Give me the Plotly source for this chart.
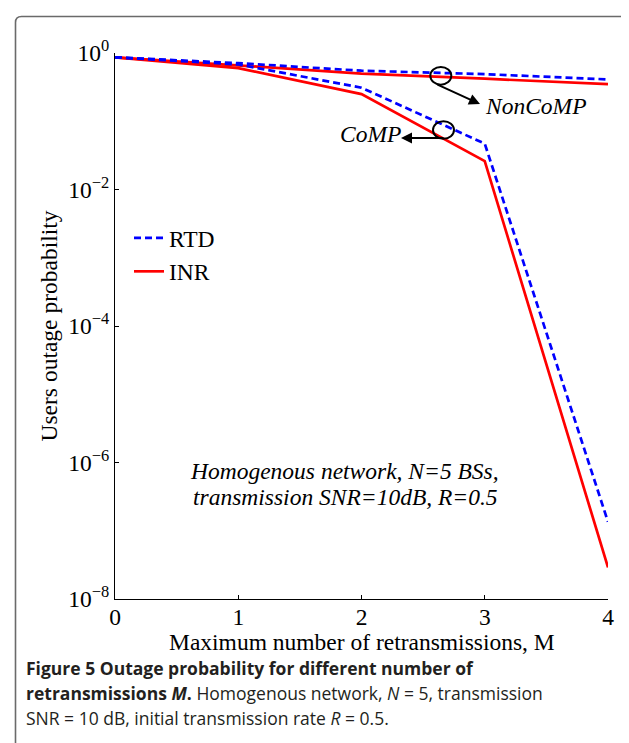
import plotly.graph_objects as go

# ---- data ----
M = [0, 1, 2, 3, 4]
noncomp_rtd = [0.865, 0.71, 0.55, 0.49, 0.41]
noncomp_inr = [0.865, 0.66, 0.50, 0.42, 0.35]
comp_rtd = [0.865, 0.68, 0.31, 0.047, 1.35e-7]
comp_inr = [0.865, 0.60, 0.25, 0.026, 2.9e-8]
ytick_vals = [1e0, 1e-2, 1e-4, 1e-6, 1e-8]
ytick_text = ["10<sup>0</sup>", "10<sup>\u22122</sup>", "10<sup>\u22124</sup>",
              "10<sup>\u22126</sup>", "10<sup>\u22128</sup>"]
xtick_vals = [0, 1, 2, 3, 4]

W, H = 629, 743
L, R, T, B = 107, 600, 45, 591
def fx(px):
    return (px - L) / (R - L)
def fy(py):
    return (B - py) / (B - T)

SERIF = "Liberation Serif"
FS = 23.5
RED = "#ff0000"
BLUE = "#0000ff"

fig = go.Figure()
fig.add_trace(go.Scatter(x=M, y=noncomp_inr, mode="lines", name="INR",
                         legendgroup="INR", showlegend=True, legendrank=2,
                         line=dict(color=RED, width=2.7)))
fig.add_trace(go.Scatter(x=M, y=comp_inr, mode="lines", name="INR",
                         legendgroup="INR", showlegend=False,
                         line=dict(color=RED, width=2.7)))
fig.add_trace(go.Scatter(x=M, y=noncomp_rtd, mode="lines", name="RTD",
                         legendgroup="RTD", showlegend=True, legendrank=1,
                         line=dict(color=BLUE, width=2.7, dash="7px,4px")))
fig.add_trace(go.Scatter(x=M, y=comp_rtd, mode="lines", name="RTD",
                         legendgroup="RTD", showlegend=False,
                         line=dict(color=BLUE, width=2.7, dash="7px,4px")))

def label(px, py, text, size=FS, family=SERIF, xanchor="center", color="black"):
    return dict(x=fx(px), y=fy(py), xref="paper", yref="paper", text=text,
                xanchor=xanchor, yanchor="middle", showarrow=False,
                font=dict(family=family, size=size, color=color))

ann = []
ann.append(label(527.5, 98, "<i>NonCoMP</i>"))
ann.append(label(362.5, 126, "<i>CoMP</i>"))
ann.append(dict(x=fx(472), y=fy(96), xref="paper", yref="paper", text="", showarrow=True,
                ax=-44, ay=-20, arrowhead=2, arrowsize=1.1, arrowwidth=2, arrowcolor="black"))
ann.append(dict(x=fx(393), y=fy(130), xref="paper", yref="paper", text="", showarrow=True,
                ax=44, ay=0, arrowhead=2, arrowsize=1.1, arrowwidth=2, arrowcolor="black"))
ann.append(label(336, 463, "<i>Homogenous network, N=5 BSs,</i>"))
ann.append(label(337, 489, "<i>transmission SNR=10dB, R=0.5</i>"))
# x-axis title
ann.append(label((L + R) / 2, 634, "Maximum number of retransmissions, M"))
CAP = "Open Sans"
CFS = 17.5
cap_lines = [
    "<b>Figure 5 Outage probability for different number of</b>",
    "<b>retransmissions <i>M</i>.</b> Homogenous network, <i>N</i> = 5, transmission",
    "SNR = 10 dB, initial transmission rate <i>R</i> = 0.5.",
]
cap_y = [660, 685, 710]
for t, yy in zip(cap_lines, cap_y):
    ann.append(label(16, yy, t, size=CFS, family=CAP, xanchor="left", color="#231f20"))

shapes = []
shapes.append(dict(type="circle", xref="paper", yref="paper",
                   x0=fx(422.3), x1=fx(443.3), y0=fy(76.7), y1=fy(59),
                   line=dict(color="black", width=2)))
shapes.append(dict(type="circle", xref="paper", yref="paper",
                   x0=fx(425), x1=fx(446), y0=fy(130.7), y1=fy(113.3),
                   line=dict(color="black", width=2)))
r = 6
path = (f"M{fx(7.5)},{fy(780)} L{fx(7.5)},{fy(8.5 + r)} "
        f"Q{fx(7.5)},{fy(8.5)} {fx(7.5 + r)},{fy(8.5)} L{fx(660)},{fy(8.5)}")
shapes.append(dict(type="path", xref="paper", yref="paper", path=path,
                   line=dict(color="#6a6a6a", width=1.6)))

fig.update_layout(
    width=W, height=H,
    margin=dict(l=L, r=W - R, t=T, b=H - B, autoexpand=False),
    paper_bgcolor="white", plot_bgcolor="white",
    font=dict(family=SERIF, size=FS, color="black"),
    showlegend=True,
    legend=dict(x=fx(121), y=fy(208), xanchor="left", yanchor="top",
                bgcolor="rgba(0,0,0,0)", borderwidth=0,
                font=dict(family=SERIF, size=FS, color="black"),
                tracegroupgap=0, itemwidth=30),
    annotations=ann, shapes=shapes,
    xaxis=dict(range=[0, 4], tickvals=xtick_vals, ticks="inside", ticklen=4,
               tickcolor="black", showline=True, linecolor="black", linewidth=1,
               showgrid=False, zeroline=False, mirror=False, automargin=False,
               ticklabelstandoff=-3,
               tickfont=dict(family=SERIF, size=FS)),
    yaxis=dict(type="log", range=[-8, 0], tickvals=ytick_vals, ticktext=ytick_text,
               ticks="inside", ticklen=4, tickcolor="black", showline=True,
               linecolor="black", linewidth=1, showgrid=False, zeroline=False,
               automargin=False,
               tickfont=dict(family=SERIF, size=FS),
               title=dict(text="Users outage probability",
                          font=dict(family=SERIF, size=FS), standoff=4)),
)

fig.write_html("out.html")
